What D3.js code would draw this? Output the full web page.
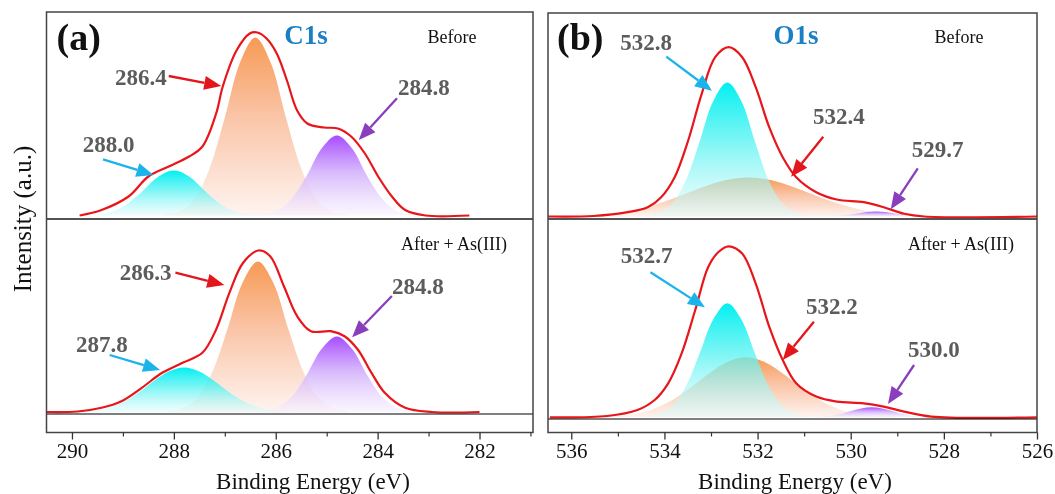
<!DOCTYPE html>
<html>
<head>
<meta charset="utf-8">
<script src="https://cdn.jsdelivr.net/npm/d3@7"></script>
<style>
	body { margin: 0; background: #fff; }
	text { font-family: "Liberation Serif", "Times New Roman", serif; }
</style>
</head>
<body>
<div id="chart"></div>
<script>
(function(){
	var width = 1055,
		height = 494;

	// ---- data: binding energy (eV), intensity (a.u.) ----
	var c1sTicks = [290, 288, 286, 284, 282];
	var o1sTicks = [536, 534, 532, 530, 528, 526];

	// C1s before
	var c1sBeforeFit = [[289.85,0],[289.42,5.5],[288.89,19],[288.50,39],[288.10,49],[287.70,59],[287.44,69],[287.17,102],[287.04,129],[286.77,165],[286.51,182],[286.36,183],[286.18,177],[285.98,162],[285.78,135],[285.58,105],[285.38,92],[285.05,88],[284.78,87],[284.52,79],[284.25,62],[283.99,39],[283.72,19],[283.46,5.5],[283.06,0],[282.2,0]];
	var c1sBeforeCyan = [[289.8,0],[289.5,1],[289.2,4],[288.9,12],[288.6,25],[288.3,39],[288.0,45],[287.7,39],[287.4,25],[287.1,12],[286.8,4],[286.5,1],[286.2,0]];
	var c1sBeforeOrange = [[288.2,1],[287.9,4],[287.6,16],[287.3,47],[287.0,98],[286.7,153],[286.4,178],[286.1,153],[285.8,98],[285.5,47],[285.2,16],[284.9,4],[284.6,1]];
	var c1sBeforePurple = [[286.3,1],[286.0,4],[285.7,16],[285.4,39],[285.1,67],[284.8,80],[284.5,67],[284.2,39],[283.9,16],[283.6,4],[283.3,1]];
	var c1sBeforePeaks = [288.0, 286.4, 284.8];

	// C1s after + As(III)
	var c1sAfterFit = [[290.49,0.5],[289.89,1],[289.42,4.7],[289.03,11.3],[288.63,24.7],[288.23,39.7],[287.83,49.7],[287.44,59.7],[287.17,83],[286.91,119.7],[286.64,149.7],[286.34,162],[286.11,156.3],[285.84,126.3],[285.58,96.3],[285.31,81.3],[284.92,81.3],[284.65,76.3],[284.39,63],[284.12,39.7],[283.86,19.7],[283.46,4.7],[282.93,0.5],[282.0,0.5]];
	var c1sAfterCyan = [[289.9,0.5],[289.6,1.7],[289.3,4.5],[289.0,10.4],[288.7,19.7],[288.4,31.2],[288.1,41],[287.8,45],[287.5,41],[287.2,31.2],[286.9,19.7],[286.6,10.4],[286.3,4.5],[286.0,1.7],[285.7,0.5]];
	var c1sAfterOrange = [[288.15,0.7],[287.85,3.7],[287.55,14],[287.25,40],[286.95,83],[286.65,130],[286.35,151],[286.05,130],[285.75,83],[285.45,40],[285.15,14],[284.85,3.7],[284.55,0.7]];
	var c1sAfterPurple = [[286.3,0.8],[286.0,4.3],[285.7,15],[285.4,37],[285.1,63.5],[284.8,76],[284.5,63.5],[284.2,37],[283.9,15],[283.6,4.3],[283.3,0.8]];
	var c1sAfterPeaks = [287.8, 286.3, 284.8];

	// O1s before
	var o1sBeforeFit = [[536.5,0],[535.52,0.5],[534.79,4.3],[534.36,9.3],[534.07,19.3],[533.78,39.3],[533.49,76],[533.20,122.7],[532.91,159.3],[532.62,169.3],[532.33,159.3],[532.04,129.3],[531.75,89.3],[531.46,59.3],[531.17,39.3],[530.74,24.3],[530.30,17],[529.72,14.3],[529.29,9.3],[528.85,2.7],[528.42,0],[526,0]];
	var o1sBeforeCyan = [[534.45,0.6],[534.15,3.3],[533.85,12.4],[533.55,35],[533.25,74],[532.95,115.5],[532.65,134],[532.35,115.5],[532.05,74],[531.75,35],[531.45,12.4],[531.15,3.3],[530.85,0.6]];
	var o1sBeforeOrange = [[536.2,0.4],[535.7,1],[535.2,2.7],[534.7,6.1],[534.2,11.9],[533.7,20],[533.2,29],[532.7,36.2],[532.2,39],[531.7,36.2],[531.2,29],[530.7,20],[530.2,11.9],[529.7,6.1],[529.2,2.7],[528.7,1],[528.2,0.4]];
	var o1sBeforePurple = [[530.45,0.2],[530.25,0.7],[530.05,1.6],[529.85,3],[529.65,4.4],[529.45,5],[529.25,4.4],[529.05,3],[528.85,1.6],[528.65,0.7],[528.45,0.2]];
	var o1sBeforePeaks = [532.8, 532.4, 529.7];

	// O1s after + As(III)
	var o1sAfterFit = [[536.46,0],[535.23,1.3],[534.58,7.3],[534.21,17.3],[533.92,34],[533.63,64],[533.34,107],[533.06,150.3],[532.84,165.3],[532.62,171],[532.33,163.7],[532.04,133.7],[531.75,90.7],[531.46,57.3],[531.17,34],[530.74,20.7],[530.30,15.7],[529.72,14],[529.29,10.7],[528.85,5.7],[528.27,0.7],[526,0]];
	var o1sAfterCyan = [[534.45,0.5],[534.15,2.8],[533.85,10.5],[533.55,30],[533.25,63],[532.95,98],[532.65,114],[532.35,98],[532.05,63],[531.75,30],[531.45,10.5],[531.15,2.8],[530.85,0.5]];
	var o1sAfterOrange = [[535.45,0.4],[535.05,1.2],[534.65,3.4],[534.25,8.1],[533.85,16.7],[533.45,29.2],[533.05,43.6],[532.65,55.4],[532.25,60],[531.85,55.4],[531.45,43.6],[531.05,29.2],[530.65,16.7],[530.25,8.1],[529.85,3.4],[529.45,1.2],[529.05,0.4]];
	var o1sAfterPurple = [[530.75,0.3],[530.55,0.9],[530.35,2.1],[530.15,4.1],[529.95,6.7],[529.75,9.1],[529.55,10],[529.35,9.1],[529.15,6.7],[528.95,4.1],[528.75,2.1],[528.55,0.9],[528.35,0.3]];
	var o1sAfterPeaks = [532.7, 532.2, 530.0];

	// fitted background level of each spectrum
	var bgLevels = [-3.5, -1.5, -2.5, -1.7];

	// ---- layout ----
	var axisY = 432.5, divY = 219;
	var cols = [
		{x0: 46.5, x1: 533, top: 12, domain: [290.5, 280.95], ticks: c1sTicks, minor: [289, 287, 285, 283, 281],
		 tag: "(a)", tagX: 10, title: "C1s", titleX: 306, beforeX: 452, afterX: 454, xlabX: 313},
		{x0: 548, x1: 1037, top: 13, domain: [536.5, 526], ticks: o1sTicks, minor: [535, 533, 531, 529, 527],
		 tag: "(b)", tagX: 9, title: "O1s", titleX: 796, beforeX: 959, afterX: 961, xlabX: 795}
	];

	// annotation layout: [labelE, labelI, fromE, fromI, toE, toI] for cyan, red, purple
	var panels = [
		{col: 0, base: 215.5, fit: c1sBeforeFit, comps: [c1sBeforeCyan, c1sBeforeOrange, c1sBeforePurple], peaks: c1sBeforePeaks, state: "Before",
		 ann: [[289.79,63.8,289.39,56.2,288.40,40.5],[289.155,130.5,288.10,139.5,287.07,129.5],[283.60,120.5,283.62,117.2,284.37,75.5]]},
		{col: 0, base: 412.5, fit: c1sAfterFit, comps: [c1sAfterCyan, c1sAfterOrange, c1sAfterPurple], peaks: c1sAfterPeaks, state: "After + As(III)",
		 ann: [[289.92,60.8,289.26,57.5,288.27,42.5],[289.06,132.5,287.97,139.8,287.01,127.5],[283.72,118.5,283.72,116.5,284.50,75.2]]},
		{col: 1, base: 216.5, fit: o1sBeforeFit, comps: [o1sBeforeCyan, o1sBeforeOrange, o1sBeforePurple], peaks: o1sBeforePeaks, state: "Before",
		 ann: [[534.95,166.5,533.96,159.8,532.98,125.8],[530.81,92.5,530.59,79.8,531.28,39.8],[528.69,59.8,528.56,48.2,529.14,7.2]]},
		{col: 1, base: 417.3, fit: o1sAfterFit, comps: [o1sAfterCyan, o1sAfterOrange, o1sAfterPurple], peaks: o1sAfterPeaks, state: "After + As(III)",
		 ann: [[534.94,154.6,534.30,145,533.13,110],[530.96,103.3,530.79,95.6,531.46,57.3],[528.77,60,528.64,52.3,529.20,13.3]]}
	];

	// gradient stops per component: [offset, colour, opacity]
	var compGrads = [
		[[0, "#00f0f0", 1], [0.4, "#4ff2f2", 0.8], [1, "#e2fbfb", 0.5]],
		[[0, "#f79a55", 1], [0.45, "#fac5a8", 1], [1, "#fef4f0", 1]],
		[[0, "#a84cff", 1], [0.45, "#d3b0fb", 0.9], [1, "#f6f1fd", 0.6]]
	];
	var drawOrder = [1, 0, 2];
	var arrowColors = ["#1ab3ea", "#e3161b", "#8a3dbd"];

	var svg = d3.select("#chart")
		.append("svg")
		.attr("width", width)
		.attr("height", height)

	var defs = svg.append("defs")
	compGrads.forEach(function(stops, i){
		var grad = defs.append("linearGradient")
			.attr("id", "grad" + i)
			.attr("x1", 0).attr("y1", 0).attr("x2", 0).attr("y2", 1)
		stops.forEach(function(s){
			grad.append("stop")
				.attr("offset", s[0])
				.attr("stop-color", s[1])
				.attr("stop-opacity", s[2])
		})
	})

	var xScales = cols.map(function(c){
		return d3.scaleLinear().domain(c.domain).range([c.x0, c.x1])
	})

	// spectra
	panels.forEach(function(p, pi){
		var x = xScales[p.col];
		var col = cols[p.col];
		var y = d3.scaleLinear().domain([0, 200]).range([p.base, p.base - 200]);
		var g = svg.append("g")

		var area = d3.area()
			.x(function(d){ return x(d[0]) })
			.y0(y(0))
			.y1(function(d){ return y(d[1]) })
			.curve(d3.curveCatmullRom)

		drawOrder.forEach(function(i){
			g.append("path")
				.datum(p.comps[i])
				.attr("d", area)
				.attr("fill", "url(#grad" + i + ")")
				.style("mix-blend-mode", "normal")
		})

		// background
		var bg = bgLevels[pi];
		g.append("line")
			.attr("x1", col.x0).attr("x2", col.x1)
			.attr("y1", y(bg)).attr("y2", y(bg))
			.attr("stroke", "#555").attr("stroke-width", 1.5)

		var line = d3.line()
			.x(function(d){ return x(d[0]) })
			.y(function(d){ return y(d[1]) })
			.curve(d3.curveCatmullRom)

		g.append("path")
			.datum(p.fit)
			.attr("d", line)
			.attr("fill", "none")
			.attr("stroke", "#e8161b")
			.attr("stroke-width", 2.2)
			.style("mix-blend-mode", "multiply")

		// peak labels + arrows
		p.ann.forEach(function(a, i){
			g.append("text")
				.attr("x", x(a[0]))
				.attr("y", y(a[1]))
				.attr("font-size", 23)
				.attr("font-weight", "bold")
				.attr("fill", "#5c5c5c")
				.text(p.peaks[i].toFixed(1))

			var x1 = x(a[2]), y1 = y(a[3]), x2 = x(a[4]), y2 = y(a[5]);
			var ang = Math.atan2(y2 - y1, x2 - x1);
			var hl = 17, hw = 7;
			var bx = x2 - hl * Math.cos(ang), by = y2 - hl * Math.sin(ang);
			g.append("line")
				.attr("x1", x1).attr("y1", y1)
				.attr("x2", bx).attr("y2", by)
				.attr("stroke", arrowColors[i])
				.attr("stroke-width", 2.3)
			g.append("path")
				.attr("d", "M" + x2 + "," + y2 +
					"L" + (bx + hw * Math.sin(ang)) + "," + (by - hw * Math.cos(ang)) +
					"L" + (bx - hw * Math.sin(ang)) + "," + (by + hw * Math.cos(ang)) + "Z")
				.attr("fill", arrowColors[i])
		})

		// state label
		var after = p.base > 300;
		g.append("text")
			.attr("x", after ? col.afterX : col.beforeX)
			.attr("y", after ? 250 : 43)
			.attr("text-anchor", "middle")
			.attr("font-size", 18)
			.attr("fill", "#111")
			.text(p.state)
	})

	// frames, axes, titles
	cols.forEach(function(c, i){
		var x = xScales[i];
		var g = svg.append("g")

		g.append("rect")
			.attr("x", c.x0).attr("y", c.top)
			.attr("width", c.x1 - c.x0).attr("height", axisY - c.top)
			.attr("fill", "none")
			.attr("stroke", "#444")
			.attr("stroke-width", 1.5)

		g.append("line")
			.attr("x1", c.x0).attr("x2", c.x1)
			.attr("y1", divY).attr("y2", divY)
			.attr("stroke", "#444")
			.attr("stroke-width", 1.5)

		var major = g.append("g")
			.attr("transform", "translate(0," + axisY + ")")
			.call(d3.axisBottom(x).tickValues(c.ticks).tickSize(7).tickPadding(4).tickFormat(d3.format("d")))
		major.select(".domain").remove()
		major.selectAll("line").attr("stroke", "#333").attr("stroke-width", 1.3)
		major.selectAll("text")
			.attr("font-size", 21)
			.attr("fill", "#111")
			.style("font-family", "'Liberation Serif', serif")

		var minor = g.append("g")
			.attr("transform", "translate(0," + axisY + ")")
			.call(d3.axisBottom(x).tickValues(c.minor).tickSize(4).tickFormat(""))
		minor.select(".domain").remove()
		minor.selectAll("line").attr("stroke", "#333").attr("stroke-width", 1.2)

		g.append("text")
			.attr("x", c.xlabX)
			.attr("y", 489)
			.attr("text-anchor", "middle")
			.attr("font-size", 23)
			.attr("fill", "#111")
			.text("Binding Energy (eV)")

		g.append("text")
			.attr("x", c.x0 + c.tagX)
			.attr("y", 50)
			.attr("font-size", 38)
			.attr("font-weight", "bold")
			.attr("fill", "#111")
			.text(c.tag)

		g.append("text")
			.attr("x", c.titleX)
			.attr("y", 44)
			.attr("text-anchor", "middle")
			.attr("font-size", 27)
			.attr("font-weight", "bold")
			.attr("fill", "#1a7fc5")
			.text(c.title)
	})

	svg.append("text")
		.attr("transform", "translate(31,219) rotate(-90)")
		.attr("text-anchor", "middle")
		.attr("font-size", 25)
		.attr("fill", "#111")
		.text("Intensity (a.u.)")

})();
</script>
</body>
</html>
